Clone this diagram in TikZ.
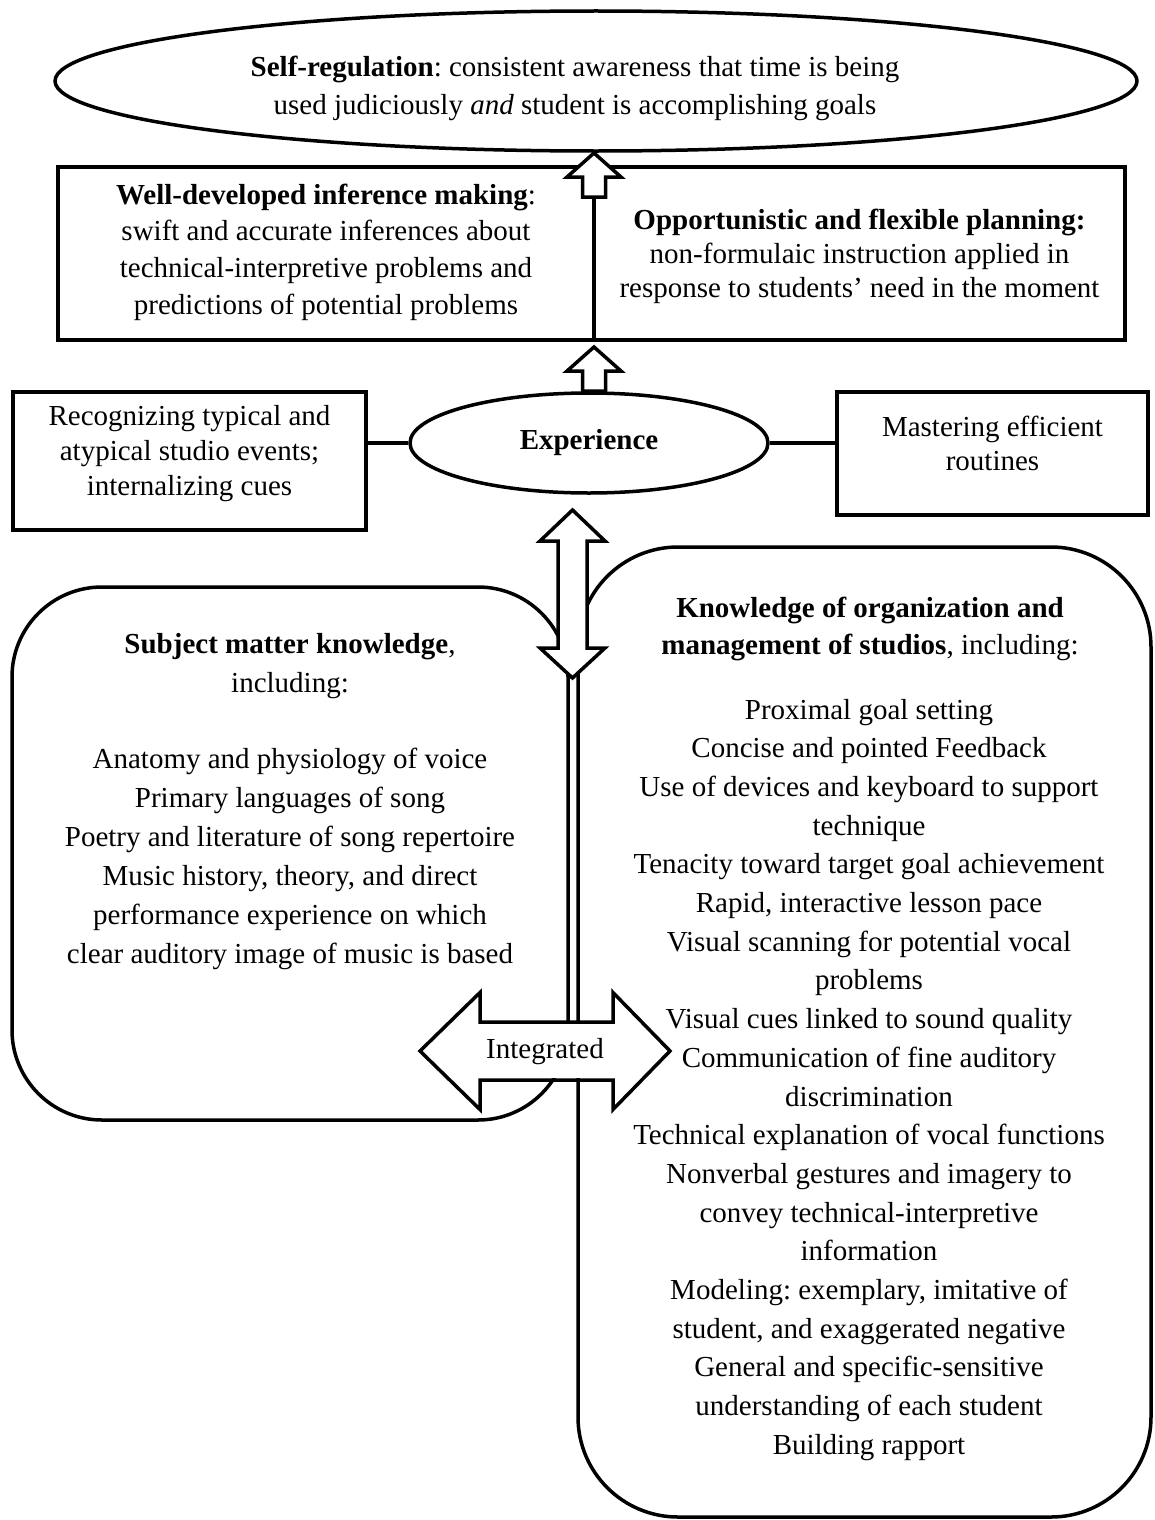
\documentclass[tikz,border=0pt]{standalone}
\usepackage{fontspec}
\setmainfont{Liberation Serif}
\usetikzlibrary{shapes.geometric}
\frenchspacing
\begin{document}
\begin{tikzpicture}[x=1pt,y=-1pt,line width=3.5pt,line join=miter,
  txt/.style 2 args={anchor=base,align=flush center,text width=#1,inner sep=0pt,font=\fontsize{29}{#2}\selectfont\frenchspacing},
  boxtxt/.style 2 args={draw,align=center,inner sep=0pt,minimum width=#1,minimum height=#2},
  hollow/.style={draw,fill=white,line width=3.5pt},
  uparrow/.pic={\draw[hollow] (0,0) -- (27,24) -- (11.5,24) -- (11.5,44) -- (-11.5,44) -- (-11.5,24) -- (-27,24) -- cycle;},
  vdarrow/.pic={\draw[hollow] (0,0) -- (32.5,31) -- (14.5,31) -- (14.5,138) -- (32.5,138) -- (0,168) -- (-32.5,138) -- (-14.5,138) -- (-14.5,31) -- (-32.5,31) -- cycle;},
  hdarrow/.pic={\draw[line width=3.5pt] (-125,0) -- (-65,-58.5) -- (-65,-29) -- (68,-29) -- (68,-58.5) -- (125,0) -- (68,58.5) -- (68,29) -- (-65,29) -- (-65,58.5) -- cycle;
    \fill[white] (-63.5,-27.2) rectangle (66.5,27.2);}
]
\fill[white] (0,0) rectangle (1154,1520);
\useasboundingbox (0,0) rectangle (1154,1520);

% top ellipse
\node[draw,ellipse,minimum width=1082,minimum height=140,inner sep=0pt] (selfreg) at (596,81) {};
\node[txt={700}{37}] (selfregtxt) at (575,77) {\textbf{Self-regulation}: consistent awareness that time is being\\used judiciously \textit{and} student is accomplishing goals};

% upper rectangle (two halves)
\node[boxtxt={536}{173}] (infer) at (326,253.5) {};
\node[txt={520}{36.7}] (infertxt) at (326,204)
  {\textbf{Well-developed inference making}:\\swift and accurate inferences about\\technical-interpretive problems and\\predictions of potential problems};
\node[boxtxt={531}{173}] (plan) at (859.5,253.5) {};
\node[txt={520}{34}] (plantxt) at (859.5,229)
  {\textbf{Opportunistic and flexible planning:}\\non-formulaic instruction applied in\\response to students’ need in the moment};

% hollow up arrows
\pic at (594,153) {uparrow};
\pic at (594,347) {uparrow};

% experience row
\node[draw,ellipse,minimum width=358,minimum height=100,inner sep=0pt,font=\fontsize{29}{34}\selectfont\bfseries] (exp) at (589,443) {Experience};
\node[boxtxt={353}{138}] (rec) at (189.5,461) {};
\node[txt={340}{35}] (rectxt) at (189.5,425) {Recognizing typical and\\atypical studio events;\\internalizing cues};
\node[boxtxt={311}{123}] (mas) at (992.5,453.5) {};
\node[txt={300}{34}] (mastxt) at (992.5,436) {Mastering efficient\\routines};
\draw (exp.west) -- (exp.west -| rec.east);
\draw (exp.east) -- (exp.east -| mas.west);

% large rounded boxes
\draw[rounded corners=90] (12,587) rectangle (568,1120);
\draw[rounded corners=100] (578,547) rectangle (1151,1517);

% double arrows
\pic at (572.5,510) {vdarrow};
\pic at (545,1051) {hdarrow};
\node[inner sep=0pt,font=\fontsize{29}{34}\selectfont] (integ) at (545,1052) {Integrated};

% left box text
\node[txt={540}{39}] (smkhead) at (290,653) {\textbf{Subject matter knowledge},\\including:};
\node[txt={540}{39}] (smklist) at (290,768) {Anatomy and physiology of voice\\Primary languages of song\\Poetry and literature of song repertoire\\Music history, theory, and direct\\performance experience on which\\clear auditory image of music is based};

% right box text
\node[txt={560}{37}] (komhead) at (870,617) {\textbf{Knowledge of organization and}\\\textbf{management of studios}, including:};
\node[txt={560}{38.7}] (komlist) at (869,719) {Proximal goal setting\\Concise and pointed Feedback\\Use of devices and keyboard to support\\technique\\Tenacity toward target goal achievement\\Rapid, interactive lesson pace\\Visual scanning for potential vocal\\problems\\Visual cues linked to sound quality\\Communication of fine auditory\\discrimination\\Technical explanation of vocal functions\\Nonverbal gestures and imagery to\\convey technical-interpretive\\information\\Modeling: exemplary, imitative of\\student, and exaggerated negative\\General and specific-sensitive\\understanding of each student\\Building rapport};
\end{tikzpicture}
\end{document}
